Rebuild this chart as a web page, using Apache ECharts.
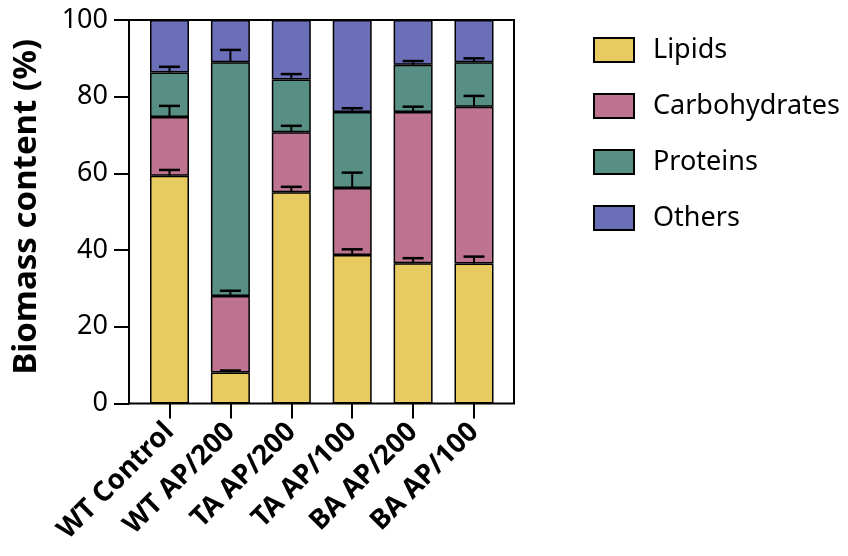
<!DOCTYPE html>
<html><head><meta charset="utf-8">
<script src="https://cdn.jsdelivr.net/npm/echarts@6/dist/echarts.min.js"></script>
<style>html,body{margin:0;padding:0;background:#fff}#c{width:848px;height:556px}</style>
</head><body><div id="c"></div>
<script>
const categories = ['WT Control','WT AP/200','TA AP/200','TA AP/100','BA AP/200','BA AP/100'];
const seriesNames = ['Lipids','Carbohydrates','Proteins','Others'];
const lipids = [59.4, 8.1, 55.1, 38.7, 36.6, 36.5];
const carbohydrates = [15.3, 19.9, 15.6, 17.5, 39.4, 40.9];
const proteins = [11.6, 61.0, 13.8, 19.8, 12.3, 11.6];
const others = [13.7, 11.0, 15.5, 24.0, 11.7, 11.0];
const lipidsErr = [1.5, 0.5, 1.4, 1.5, 1.3, 1.8];
const carbohydratesErr = [2.9, 1.4, 1.7, 4.0, 1.4, 2.8];
const proteinsErr = [1.5, 3.2, 1.4, 1.0, 1.0, 1.0];
const yTicks = [0, 20, 40, 60, 80, 100];
const colors = ['#E8CB60','#BE7490','#578F84','#6A6FB7'];

const values = [lipids, carbohydrates, proteins, others];
const errs = [lipidsErr, carbohydratesErr, proteinsErr];
const errData = [];
for (let s = 0; s < errs.length; s++) {
  for (let i = 0; i < categories.length; i++) {
    let top = 0;
    for (let k = 0; k <= s; k++) top += values[k][i];
    errData.push([i, top, errs[s][i]]);
  }
}
const font = 'Noto Sans';
const chart = echarts.init(document.getElementById('c'));
const barSeries = seriesNames.map((n, si) => ({
  name: n, type: 'bar', stack: 'all', xAxisIndex: 1, yAxisIndex: 1,
  barWidth: 39, data: values[si],
  itemStyle: {color: colors[si], borderColor: '#000', borderWidth: 1.5}
}));
chart.setOption({
  animation: false,
  textStyle: {fontFamily: font},
  grid: [
    {left: 129, top: 20, width: 385, height: 383.5, show: true, borderColor: '#000', borderWidth: 2},
    {left: 139.05, top: 20, width: 365.4, height: 383.5}
  ],
  legend: {
    orient: 'vertical', left: 588, top: 31.5, itemWidth: 40, itemHeight: 24, itemGap: 29,
    data: seriesNames, icon: 'rect',
    textStyle: {fontFamily: font, fontSize: 27, lineHeight: 24, color: '#000', padding: [0, 0, 0, 14]},
    itemStyle: {borderColor: '#000', borderWidth: 2}
  },
  xAxis: [
    {type: 'category', gridIndex: 0, data: categories, show: false},
    {type: 'category', gridIndex: 1, data: categories,
     axisLine: {show: false},
     axisTick: {show: true, alignWithLabel: true, length: 15, lineStyle: {color: '#000', width: 2}},
     axisLabel: {rotate: 45, fontFamily: font, fontSize: 27.5, fontWeight: 'bold', color: '#000', margin: 24, interval: 0}}
  ],
  yAxis: [
    {type: 'value', gridIndex: 0, min: 0, max: 100, interval: 20,
     name: 'Biomass content (%)', nameLocation: 'middle', nameGap: 86,
     nameTextStyle: {fontFamily: font, fontSize: 33, fontWeight: 'bold', color: '#000', padding: [0, 0, 0, 10]},
     axisLine: {show: true, lineStyle: {color: '#000', width: 2}},
     axisTick: {show: true, length: 15, lineStyle: {color: '#000', width: 2}},
     axisLabel: {fontFamily: font, fontSize: 27, color: '#000', margin: 21,
       formatter: v => yTicks.includes(v) ? String(v) : ''},
     splitLine: {show: false}},
    {type: 'value', gridIndex: 1, min: 0, max: 100, interval: 20, show: false, splitLine: {show: false}}
  ],
  series: barSeries.concat([{
    type: 'custom', xAxisIndex: 1, yAxisIndex: 1, z: 10, data: errData,
    renderItem: function (params, api) {
      const i = api.value(0), b = api.value(1), e = api.value(2);
      const p0 = api.coord([i, b]);
      const p1 = api.coord([i, b + e]);
      const hw = 10.5;
      return {type: 'group', children: [
        {type: 'line', shape: {x1: p0[0], y1: p0[1], x2: p1[0], y2: p1[1]}, style: {stroke: '#000', lineWidth: 2}},
        {type: 'line', shape: {x1: p1[0] - hw, y1: p1[1], x2: p1[0] + hw, y2: p1[1]}, style: {stroke: '#000', lineWidth: 2.5}}
      ]};
    }
  }])
});
</script></body></html>
